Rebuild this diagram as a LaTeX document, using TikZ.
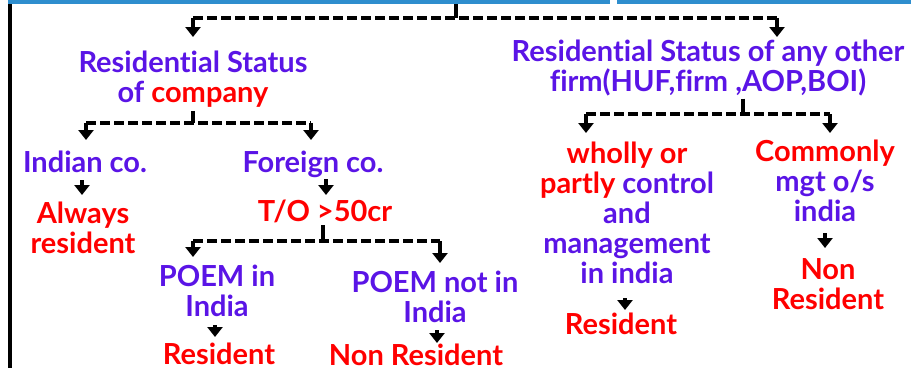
\documentclass[tikz,border=0pt]{standalone}
\usepackage{fontspec}
\setmainfont{Lato}[Ligatures={NoCommon}]
\usetikzlibrary{arrows.meta,positioning}
\definecolor{barblue}{HTML}{2E8ECE}
\definecolor{stpurple}{HTML}{5A14E6}
\definecolor{stred}{HTML}{FF0000}

\begin{document}
\begin{tikzpicture}[x=1pt,y=1pt,
		txt/.style={font=\fontsize{29}{30}\selectfont\bfseries, align=center, inner sep=0pt, anchor=north},
		pur/.style={txt, text=stpurple},
		rd/.style={txt, text=stred},
		link/.style={line width=3.5pt},
		fork/.style={line width=3.2pt, dash pattern=on 10pt off 4pt},
		arr/.style={line width=3.5pt, -{Triangle[width=15pt,length=10pt]}, shorten >=#1},
		arr/.default=10pt
	]
	\useasboundingbox (0,0) rectangle (911,-368);
	
	% header bar and left rule
	\node[fill=barblue, inner sep=0pt, minimum width=602pt, minimum height=4pt, anchor=north west] (bar_l) at (8,0) {};
	\node[fill=barblue, inner sep=0pt, minimum width=294pt, minimum height=4pt, anchor=north west] (bar_r) at (617,0) {};
	\draw[line width=4pt] (bar_l.south west) ++(2,0) -- ++(0,-364);
	
	% texts
	\node[pur] (rs_co) at (193,-51) {Residential Status\\of \textcolor{stred}{company}};
	\node[pur] (rs_oth) at (708,-40) {Residential Status of any other\\firm(HUF,firm ,AOP,BOI)};
	
	\node[pur] (ind) at (85,-151) {Indian co.};
	\node[pur] (frn) at (313,-151) {Foreign co.};
	\node[rd] (alw) at (83,-202) {Always\\resident};
	\node[rd] (to) at (325,-200) {T/O >50cr};
	
	\node[pur] (p_in) at (217,-265) {POEM in\\India};
	\node[pur] (p_out) at (435,-271) {POEM not in\\India};
	\node[rd] (res_1) at (219,-343) {Resident};
	\node[rd] (nres_1) at (416,-344) {Non Resident};
	
	\node[pur] (wp) at (627,-142) {\textcolor{stred}{wholly or}\\\textcolor{stred}{partly} control\\and\\management\\in india};
	\node[pur] (cm) at (825,-140) {\textcolor{stred}{Commonly}\\mgt o/s\\india};
	\node[rd] (res_2) at (621,-313) {Resident};
	\node[rd] (nres_2) at (828,-258) {Non\\Resident};
	
	% forks
	\coordinate (f_0) at (456,-18);
	\coordinate (f_0l) at (193,-18);
	\coordinate (f_0r) at (777,-18);
	\coordinate (f_1) at (193,-123);
	\coordinate (f_1l) at (86,-123);
	\coordinate (f_1r) at (311,-123);
	\coordinate (f_2) at (323,-241);
	\coordinate (f_2l) at (193,-241);
	\coordinate (f_2r) at (440,-241);
	\coordinate (f_3) at (743,-114);
	\coordinate (f_3l) at (586,-114);
	\coordinate (f_3r) at (830,-114);
	
	\draw[link] (f_0 |- bar_l.south) -- (f_0);
	\draw[fork] (f_0l) -- (f_0r);
	\draw[arr=14pt] (f_0l) -- (f_0l |- rs_co.north);
	\draw[arr=3pt] (f_0r) -- (f_0r |- rs_oth.north);
	
	\draw[link, shorten <=3pt] (rs_co.south) -- (f_1);
	\draw[fork] (f_1l) -- (f_1r);
	\draw[arr=11pt] (f_1l) -- (f_1l |- ind.north);
	\draw[arr=11pt] (f_1r) -- (f_1r |- frn.north);
	
	\draw[link, shorten <=2pt] (to.south -| f_2) -- (f_2);
	\draw[fork] (f_2l) -- (f_2r);
	\draw[arr=8pt] (f_2l) -- (f_2l |- p_in.north);
	\draw[arr=8pt] (f_2r) -- (f_2r |- p_out.north);
	
	\draw[link, shorten <=2pt] (f_3 |- rs_oth.south) -- (f_3);
	\draw[fork] (f_3l) -- (f_3r);
	\draw[arr=9pt] (f_3l) -- (f_3l |- wp.north);
	\draw[arr=7pt] (f_3r) -- (f_3r |- cm.north);
	
	% leaves
	\draw[arr=7pt, shorten <=7pt] (ind.south -| 82,0) -- (82,0 |- alw.north);
	\draw[arr=5pt, shorten <=1pt] (frn.south -| 326,0) -- (326,0 |- to.north);
	\draw[arr=6pt, shorten <=8pt] (p_in.south -| 215,0) -- (215,0 |- res_1.north);
	\draw[arr=1pt, shorten <=7pt] (p_out.south -| 437,0) -- (437,0 |- nres_1.north);
	\draw[arr=3pt, shorten <=14pt] (wp.south -| 625,0) -- (625,0 |- res_2.north);
	\draw[arr=10pt, shorten <=11pt] (cm.south -| 825,0) -- (825,0 |- nres_2.north);
\end{tikzpicture}
\end{document}
